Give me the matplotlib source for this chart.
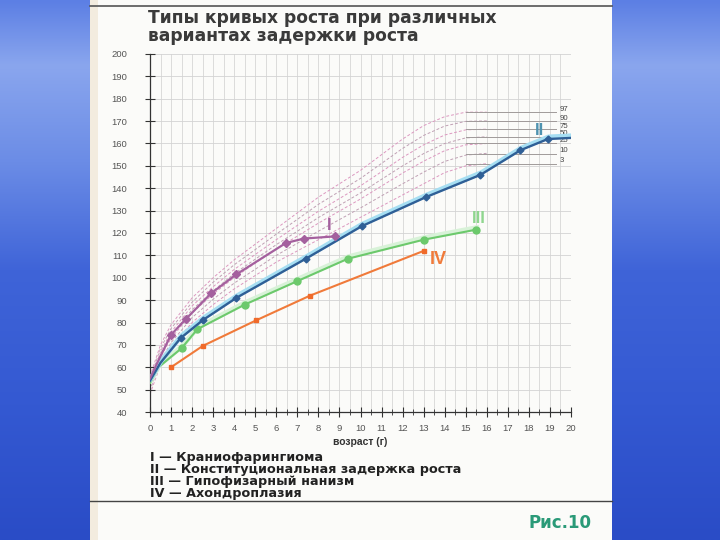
import numpy as np
import matplotlib
matplotlib.use("Agg")
import matplotlib.pyplot as plt
from matplotlib import patheffects as pe
from matplotlib.colors import LinearSegmentedColormap
from matplotlib.patches import Rectangle

plt.rcParams['font.family'] = ['Liberation Sans', 'DejaVu Sans']

# ---- data ----
title = "Типы кривых роста при различных\nвариантах задержки роста"
x_label = "возраст (г)"
legend_lines = ["I — Краниофарингиома",
                "II — Конституциональная задержка роста",
                "III — Гипофизарный нанизм",
                "IV — Ахондроплазия"]
fig_label = "Рис.10"

x_ticks = list(range(0, 21))
y_ticks = list(range(40, 201, 10))

# percentile curves (dashed, age 0..16)
pct_age = [0, 0.5, 1, 2, 3, 4, 5, 6, 7, 8, 9, 10, 11, 12, 13, 14, 15, 16]
pct_names = ["97", "90", "75", "50", "25", "10", "3"]
p97 = [56, 70, 79, 91, 100, 108, 115, 122, 129, 136, 142, 148, 155, 162, 168, 172, 174, 174]
p90 = [54.6, 68.5, 77.3, 89.1, 98, 105.8, 112.6, 119.5, 126.1, 132.8, 138.6, 144.4, 151.1, 157.8, 163.6, 167.8, 169.9, 170.1]
p75 = [53.4, 67, 75.7, 87.4, 96, 103.7, 110.4, 117, 123.4, 129.7, 135.4, 141.1, 147.4, 153.8, 159.4, 163.8, 166.1, 166.4]
p50 = [52.2, 65.7, 74.2, 85.7, 94.2, 101.8, 108.3, 114.8, 120.8, 126.9, 132.4, 137.9, 144, 150, 155.5, 160, 162.5, 163]
p25 = [51.1, 64.5, 72.9, 84.3, 92.7, 100.1, 106.5, 112.9, 118.6, 124.4, 129.8, 135.2, 141, 146.8, 152.1, 156.8, 159.4, 160]
p10 = [49.6, 62.8, 71, 82.2, 90.4, 97.6, 103.8, 110, 115.4, 120.8, 126, 131.2, 136.6, 142, 147.2, 152, 154.8, 155.6]
p3 = [48, 61, 69, 80, 88, 95, 101, 107, 112, 117, 122, 127, 132, 137, 142, 147, 150, 151]
pct_final = [174, 170, 166.5, 163, 160, 155.5, 151]

# growth curves
I_x = [0, 0.5, 1.0, 1.7, 2.9, 4.1, 6.45, 7.3, 8.8]
I_y = [55, 65, 74.5, 81.5, 93, 101.5, 115.5, 117.5, 118.5]
II_x = [0, 0.5, 1.45, 2.5, 4.1, 7.4, 10.05, 13.1, 15.7, 17.6, 18.9, 20]
II_y = [54, 62, 73, 81, 91, 108.5, 123, 136, 146, 157, 162, 162.5]
III_x = [0, 0.4, 1.5, 2.25, 4.5, 7.0, 9.4, 13.0, 15.5]
III_y = [53, 60, 68.5, 77, 88, 98.5, 108.5, 117, 121.5]
IV_x = [1.0, 2.5, 5.05, 7.6, 13.0]
IV_y = [60, 69.5, 81, 92, 112]

# ---- figure ----
fig = plt.figure(figsize=(7.2, 5.4), dpi=100)

# blue slide background
bg = fig.add_axes([0, 0, 1, 1], zorder=-10)
cmap = LinearSegmentedColormap.from_list(
    "slide", [(0, "#5c7fe4"), (0.12, "#8aa6ee"), (0.3, "#6b8ce6"),
              (0.5, "#3f64d8"), (0.75, "#3459d2"), (1, "#2a4cc6")])
grad = np.linspace(0, 1, 256).reshape(-1, 1)
bg.imshow(grad, aspect='auto', cmap=cmap, extent=[0, 1, 0, 1], origin='upper')
bg.set_xlim(0, 1); bg.set_ylim(0, 1)
bg.axis('off')

# paper
fig.patches.append(Rectangle((90 / 720, 0), 522 / 720, 1, transform=fig.transFigure,
                             facecolor="#fbfbf9", edgecolor="none", zorder=-5))
fig.patches.append(Rectangle((90 / 720, 0), 8 / 720, 1, transform=fig.transFigure,
                             facecolor="#f3ecdf", edgecolor="none", zorder=-4))
fig.lines.append(plt.Line2D([90 / 720, 612 / 720], [1 - 6 / 540, 1 - 6 / 540],
                            transform=fig.transFigure, color="#555555", lw=1.2))
fig.lines.append(plt.Line2D([90 / 720, 612 / 720], [1 - 501 / 540, 1 - 501 / 540],
                            transform=fig.transFigure, color="#444444", lw=1.0))

ax = fig.add_axes([150 / 720, 1 - 412 / 540, 421 / 720, 358 / 540])
ax.set_facecolor("none")
ax.set_xlim(0, 20)
ax.set_ylim(40, 200)

# grid
for gx in np.arange(0.5, 20.01, 0.5):
    ax.axvline(gx, color="#d6d6d6", lw=0.6, zorder=0)
for gy in range(50, 201, 10):
    ax.axhline(gy, color="#d3d3d3", lw=0.6, zorder=0)

# percentile curves
pct_data = [p97, p90, p75, p50, p25, p10, p3]
for i, (name, vals, fin) in enumerate(zip(pct_names, pct_data, pct_final)):
    col = "#dc98c0" if i % 2 == 0 else "#c0a0b4"
    ax.plot(pct_age, vals, color=col, lw=0.7, ls=(0, (3, 2)), zorder=1)
    ax.plot([15, 19.3], [fin, fin], color="#a09a9a", lw=0.7, zorder=1)
    ax.text(19.45, fin + 1.3, name, fontsize=5.6, color="#444444",
            va='center', ha='left')

# growth curves
glow = lambda c: [pe.Stroke(linewidth=3.5, foreground=c, offset=(0.5, 1.5)), pe.Normal()]
ax.plot(III_x, III_y, color="#6cc96c", lw=1.5, zorder=3,
        path_effects=glow("#d8f2d8"))
ax.plot(III_x[2:], III_y[2:], ls='none', marker='o', ms=5, color="#6cc96c", zorder=4)
ax.plot(IV_x, IV_y, color="#f07a3a", lw=1.5, zorder=3)
ax.plot(IV_x, IV_y, ls='none', marker='s', ms=3, color="#f06a2a", zorder=4)
ax.plot(II_x, II_y, color="#2f5f96", lw=1.7, zorder=5,
        path_effects=glow("#a6def2"))
ax.plot(II_x[2:-1], II_y[2:-1], ls='none', marker='D', ms=3.5, color="#2f5f96", zorder=6)
ax.plot(I_x, I_y, color="#a4609e", lw=1.6, zorder=5)
ax.plot(I_x[2:], I_y[2:], ls='none', marker='D', ms=4, color="#a4609e", zorder=6)

# roman labels
ax.text(8.5, 123.5, "I", color="#a4609e", fontsize=12, fontweight='bold', ha='center', va='center')
ax.text(18.5, 166.0, "II", color="#4f93b0", fontsize=12, fontweight='bold', ha='center', va='center')
ax.text(15.6, 126.5, "III", color="#8fd68f", fontsize=12, fontweight='bold', ha='center', va='center')
ax.text(13.7, 108.0, "IV", color="#f07a3a", fontsize=13, fontweight='bold', ha='center', va='center')

# axes styling
for s in ['top', 'right']:
    ax.spines[s].set_visible(False)
for s in ['left', 'bottom']:
    ax.spines[s].set_color("#333333")
    ax.spines[s].set_linewidth(0.9)
ax.set_xticks(x_ticks)
ax.set_xticks(np.arange(0.5, 20, 1), minor=True)
ax.set_yticks(y_ticks)
ax.tick_params(axis='both', which='major', direction='inout', length=7, width=0.8,
               colors="#333333", labelcolor="#555555", labelsize=6.8)
ax.tick_params(axis='x', which='minor', direction='inout', length=5, width=0.6, colors="#333333")
ax.tick_params(axis='y', pad=13)
ax.tick_params(axis='x', pad=5)
ax.set_xlabel(x_label, fontsize=7.5, fontweight='bold', color="#333333", labelpad=3)

# texts
wide = ['DejaVu Sans']
fig.text(148 / 720, 1 - 27 / 540, title, fontsize=12.3, fontweight='bold', color="#3a3a3a",
         va='center', ha='left', linespacing=0.95, family=wide)
for i, line in enumerate(legend_lines):
    fig.text(150 / 720, 1 - (458 + 12 * i) / 540, line, fontsize=9.2, fontweight='bold',
             color="#222222", va='center', ha='left', family=wide)
fig.text(529 / 720, 1 - 523 / 540, fig_label, fontsize=12, fontweight='bold',
         color="#2a9a78", va='center', ha='left', family=wide)

fig.savefig("out.png", dpi=100)
